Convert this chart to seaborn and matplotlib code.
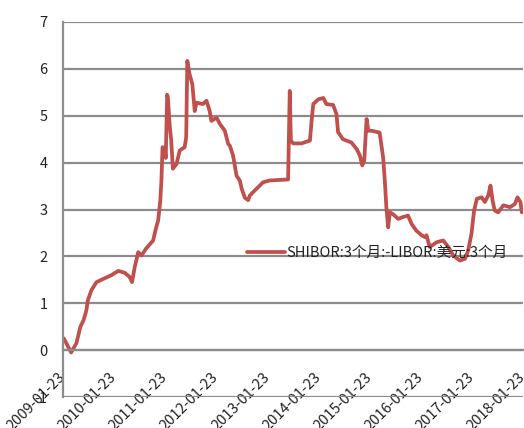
import matplotlib
matplotlib.use("Agg")
import matplotlib.pyplot as plt
import seaborn as sns
import pandas as pd

dates = [
    "2009-01-23", "2009-01-30", "2009-03-23", "2009-04-30", "2009-05-28", "2009-06-20", "2009-07-10",
    "2009-07-20", "2009-08-15", "2009-09-20", "2009-11-08", "2010-01-05", "2010-02-23",
    "2010-04-10", "2010-05-15", "2010-06-01", "2010-06-20", "2010-07-15", "2010-08-08",
    "2010-09-08", "2010-10-30", "2010-11-15", "2010-12-05", "2010-12-20", "2010-12-28",
    "2011-01-05", "2011-01-20", "2011-01-28", "2011-02-07", "2011-02-12", "2011-02-25",
    "2011-03-08", "2011-03-20", "2011-04-15", "2011-05-08", "2011-06-12", "2011-06-23",
    "2011-07-01", "2011-07-17", "2011-08-06", "2011-08-23", "2011-09-04", "2011-10-20",
    "2011-11-15", "2011-12-08", "2011-12-20", "2012-01-26", "2012-02-20", "2012-03-25",
    "2012-04-18", "2012-04-30", "2012-05-23", "2012-06-17", "2012-07-10", "2012-07-23",
    "2012-08-15", "2012-09-08", "2012-09-20", "2012-10-13", "2012-12-23", "2013-02-10",
    "2013-06-20", "2013-07-02", "2013-07-10", "2013-07-26", "2013-09-23", "2013-11-23",
    "2013-12-05", "2013-12-17", "2014-01-22", "2014-02-27", "2014-03-20", "2014-05-08",
    "2014-06-01", "2014-06-12", "2014-07-17", "2014-09-15", "2014-10-23", "2014-11-15",
    "2014-12-02", "2014-12-16", "2015-01-02", "2015-01-14", "2015-02-08", "2015-04-05",
    "2015-04-30", "2015-05-12", "2015-05-23", "2015-06-05", "2015-06-17", "2015-07-10",
    "2015-08-15", "2015-09-20", "2015-10-25", "2015-11-20", "2015-12-23", "2016-01-30",
    "2016-02-23", "2016-03-05", "2016-03-28", "2016-05-15", "2016-07-02", "2016-08-08",
    "2016-09-12", "2016-10-30", "2016-12-05", "2016-12-28", "2017-01-20", "2017-02-08",
    "2017-02-28", "2017-04-03", "2017-04-26", "2017-05-20", "2017-06-05", "2017-06-20",
    "2017-07-05", "2017-07-30", "2017-09-05", "2017-10-23", "2017-11-27", "2017-12-15",
    "2018-01-05", "2018-01-15", "2018-01-23",
]
spread = [
    0.22, 0.25, -0.05, 0.15, 0.50, 0.64, 0.85,
    1.06, 1.28, 1.45, 1.52, 1.60, 1.69,
    1.65, 1.56, 1.45, 1.77, 2.09, 2.02,
    2.16, 2.34, 2.55, 2.77, 3.19, 3.62,
    4.33, 4.30, 4.10, 5.45, 5.40, 4.80,
    4.47, 3.87, 3.97, 4.26, 4.33, 4.54,
    6.17, 5.89, 5.67, 5.10, 5.28, 5.25,
    5.32, 5.10, 4.89, 4.96, 4.82, 4.68,
    4.40, 4.36, 4.15, 3.72, 3.62, 3.45,
    3.25, 3.20, 3.30, 3.37, 3.58, 3.62,
    3.64, 5.53, 4.47, 4.41, 4.41, 4.47,
    4.89, 5.25, 5.35, 5.38, 5.25, 5.23,
    5.03, 4.65, 4.50, 4.43, 4.29, 4.15,
    3.94, 4.04, 4.93, 4.68, 4.68, 4.64,
    4.11, 3.62, 3.05, 2.62, 2.94, 2.90,
    2.80, 2.84, 2.87, 2.69, 2.55, 2.45,
    2.41, 2.45, 2.20, 2.30, 2.34, 2.20,
    2.02, 1.91, 1.95, 2.13, 2.48, 2.98,
    3.23, 3.26, 3.16, 3.30, 3.51, 3.19,
    2.98, 2.94, 3.09, 3.05, 3.12, 3.26,
    3.16, 2.94, 2.96,
]
tick_labels = ["2009-01-23", "2010-01-23", "2011-01-23", "2012-01-23", "2013-01-23",
               "2014-01-23", "2015-01-23", "2016-01-23", "2017-01-23", "2018-01-23"]
y_ticks = [-1, 0, 1, 2, 3, 4, 5, 6, 7]
series_name = "SHIBOR:3个月:-LIBOR:美元:3个月"

sns.set_style("white")
plt.rcParams["font.family"] = ["Noto Sans CJK SC", "DejaVu Sans"]

df = pd.DataFrame({"date": pd.to_datetime(dates), "value": spread})

fig = plt.figure(figsize=(5.24, 4.28), dpi=100)
ax = fig.add_axes([0.120, 0.0724, 0.878, 0.8762])

sns.lineplot(data=df, x="date", y="value", ax=ax, color="#C0504D", linewidth=2.7,
             label=series_name)

grid_c = "#8C8C8C"
ax.set_ylim(-1, 7)
ax.set_yticks(y_ticks)
ax.set_yticklabels([str(v) for v in y_ticks])
ax.yaxis.grid(True, color=grid_c, linewidth=1.6)
ax.set_axisbelow(True)
ax.xaxis.grid(False)

ticks = pd.to_datetime(tick_labels)
ax.set_xlim(ticks[0], ticks[-1])
ax.set_xticks(ticks)
ax.set_xticklabels(tick_labels)

for s in ["top", "right"]:
    ax.spines[s].set_visible(False)
ax.spines["left"].set_color(grid_c)
ax.spines["left"].set_linewidth(1.6)
ax.spines["bottom"].set_color(grid_c)
ax.spines["bottom"].set_linewidth(1.6)
ax.spines["bottom"].set_position(("data", 0))

ax.tick_params(axis="y", length=4, width=1.6, color=grid_c, pad=7, labelsize=10.5,
               labelcolor="#222222")
ax.tick_params(axis="x", length=4, width=1.6, color=grid_c, pad=14, labelsize=10.5,
               labelcolor="#222222")
ax.set_xlabel("")
ax.set_ylabel("")

for lab in ax.get_xticklabels():
    lab.set_rotation(45)
    lab.set_ha("right")
    lab.set_va("center")
    lab.set_rotation_mode("anchor")

leg = ax.legend(loc="center left", bbox_to_anchor=(0.40, 0.384), frameon=False,
                borderpad=0, borderaxespad=0, handlelength=2.6, handletextpad=0.1,
                fontsize=10.5)
for t in leg.get_texts():
    t.set_color("#222222")

fig.savefig("out.png", dpi=100)
